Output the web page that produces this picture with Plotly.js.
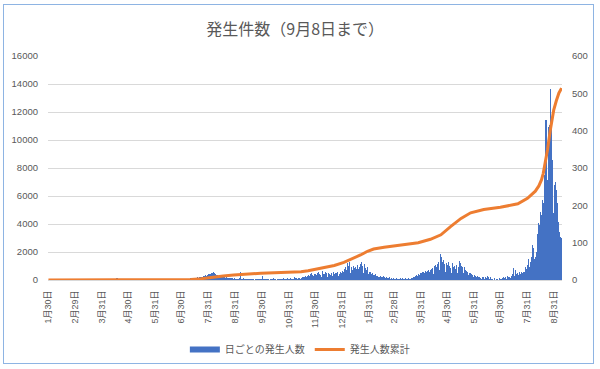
<!DOCTYPE html>
<html><head><meta charset="utf-8">
<script src="https://cdn.plot.ly/plotly-3.0.1.min.js"></script>
<style>
html,body{margin:0;padding:0;background:#fff;}
#wrap{position:relative;width:600px;height:369px;}
#chart{width:600px;height:369px;}
#frame{position:absolute;left:3px;top:4px;width:591px;height:360px;border:1px solid #8eb4e3;pointer-events:none;box-sizing:border-box;}
</style></head><body>
<div id="wrap"><div id="chart"></div><div id="frame"></div></div>
<script>
// ---- data ----
const startDate = '2020-01-30';
const dailyCases = [
  // 2020-01-30..31
  0, 1,
  // 2020-02
  0,0,0,1,0, 0,0,1,0,0, 0,0,1,2,1, 0,0,1,2,1, 0,1,0,2,1, 0,1,2,3,
  // 2020-03
  2,1,3,2,4, 3,5,4,6,5, 7,6,8,9,10, 8,12,10,14,16, 18,15,20,22,25, 28,30,35,32,40, 45,
  // 2020-04
  50,55,60,58,70, 65,80,75,90,85, 95,88,100,92,105, 98,110,150,95,105, 90,85,80,75,70, 65,60,55,50,45,
  // 2020-05
  40,35,30,28,25, 22,20,18,16,15, 14,12,10,9,8, 7,6,5,6,4, 5,3,4,2,3, 2,1,2,1,2, 1,
  // 2020-06
  1,2,0,1,2, 1,0,2,1,3, 2,1,4,3,2, 5,4,3,6,5, 8,6,10,12,9, 15,14,18,20,25,
  // 2020-07
  30,45,38,52,60, 48,70,85,78,95, 110,90,125,140,118, 160,150,175,190,165, 210,230,205,250,270, 240,300,330,290,360, 400,
  // 2020-08
  420,450,380,480,520, 560,500,430,380,350, 300,320,280,250,270, 230,200,220,180,160, 190,150,140,170,120, 130,110,140,100,120, 90,
  // 2020-09
  80,100,60,120,150, 590,90,70,110,60, 80,130,50,70,90, 40,100,60,80,120, 50,30,70,90,40, 60,80,30,50,70,
  // 2020-10
  290,60,40,80,100, 30,50,70,20,90, 60,40,110,30,50, 80,20,60,100,40, 70,30,90,50,120, 60,80,40,150,70, 100,
  // 2020-11
  80,120,60,100,90, 190,70,110,130,90, 150,120,100,170,140, 200,250,180,300,230, 280,350,260,320,400, 520,380,300,430,350,
  // 2020-12
  400,350,480,590,420, 380,250,500,650,460, 400,550,480,250,520, 600,450,380,500,270, 550,420,480,400,520, 580,280,450,600,520, 650,
  // 2021-01
  710,600,800,950,700, 1190,1000,1260,1070,500, 960,750,1000,850,920, 780,450,1050,820,950, 1150,1310,1000,500,900, 1120,850,700,900,450, 590,
  // 2021-02
  550,480,420,500,380, 350,400,300,280,320, 250,220,300,200,180, 260,220,500,150,200, 170,120,180,100,150, 130,90,120,
  // 2021-03
  100,80,130,60,90, 150,70,110,50,120, 90,60,140,80,100, 70,130,90,60,110, 150,200,250,180,300, 350,280,400,380,450, 520,
  // 2021-04
  480,550,590,500,620, 560,300,650,710,600, 750,820,880,450,950, 1000,1070,900,1150,1310, 700,1400,1830,1660,1300, 1430,1150,600,1200,1070,
  // 2021-05
  1100,1260,1000,850,500, 1200,900,1120,1000,800, 1070,500,950,1360,1190, 1500,1000,950,500,900, 710,650,600,785,350, 500,480,420,380,200, 360,
  // 2021-06
  320,280,250,300,200, 180,120,70,150,250, 200,100,180,120,290, 220,150,80,240,100, 60,30,120,20,80, 40,100,30,150,60,
  // 2021-07
  80,150,60,200,120, 250,100,300,180,220, 350,150,280,400,830, 300,710,450,350,500, 380,600,420,550,480, 600,700,550,950,800, 1100,
  // 2021-08
  1500,900,1300,1700,1660, 2500,2260,1500,1660,2020, 3300,3810,4050,3930,4880, 4640,5710,5480,7500,9800, 11430,11400,7140,10900,11070, 13620,11300,9520,8600,4760, 6790,
  // 2021-09-01..08
  7020,6430,5500,4160,3810, 3450,3090,2980
];

const cumDates = [
  '2020-01-30','2020-05-09','2020-07-06','2020-07-11','2020-07-23','2020-07-31','2020-08-07','2020-08-17','2020-08-29',
  '2020-09-14','2020-09-29','2020-10-22','2020-11-14','2020-11-22','2020-12-10','2020-12-22','2021-01-02','2021-01-12',
  '2021-01-21','2021-01-29','2021-02-05','2021-02-17','2021-03-08','2021-03-28','2021-04-11','2021-04-23','2021-05-04',
  '2021-05-16','2021-05-27','2021-06-11','2021-06-30','2021-07-20','2021-07-31','2021-08-09','2021-08-13','2021-08-16',
  '2021-08-18','2021-08-20','2021-08-23','2021-08-26','2021-08-30','2021-09-02','2021-09-05','2021-09-08'
];
const cumValues = [
  0,0.3,1,1.5,3.5,6.5,9,11,13.4,
  16,18,19.8,22,25,33,39,47,57,
  67,77,83,88,94,100,109,121,143,
  165,180,189,195,204,219,238,252,268,
  285,310,350,400,455,480,501,514
];

const tickDates = ['2020-01-30','2020-02-29','2020-03-31','2020-04-30','2020-05-31','2020-06-30','2020-07-31',
  '2020-08-31','2020-09-30','2020-10-31','2020-11-30','2020-12-31','2021-01-31','2021-02-28','2021-03-31',
  '2021-04-30','2021-05-31','2021-06-30','2021-07-31','2021-08-31'];
const tickLabels = ['1月30日','2月29日','3月31日','4月30日','5月31日','6月30日','7月31日','8月31日','9月30日',
  '10月31日','11月30日','12月31日','1月31日','2月28日','3月31日','4月30日','5月31日','6月30日','7月31日','8月31日'];

const seriesNames = ['日ごとの発生人数', '発生人数累計'];
const chartTitle = '発生件数（9月8日まで）';

// ---- build day categories from the start date ----
function dayString(i) {
  const p = startDate.split('-').map(Number);
  const d = new Date(Date.UTC(p[0], p[1] - 1, p[2] + i));
  return d.toISOString().slice(0, 10);
}
const dayDates = dailyCases.map((_, i) => dayString(i));

const BLUE = '#4472C4', ORANGE = '#ED7D31', TXT = '#595959';
const FONT = "'Liberation Sans', 'Noto Sans CJK JP', sans-serif";
const CJK = "'Noto Sans CJK JP', 'Liberation Sans', sans-serif";

const traces = [
  { type: 'bar', x: dayDates, y: dailyCases, name: seriesNames[0], showlegend: false,
    marker: { color: BLUE, line: { width: 0 } }, yaxis: 'y', hoverinfo: 'x+y' },
  { type: 'scatter', mode: 'lines', x: [null], y: [null], name: seriesNames[0],
    line: { color: BLUE, width: 6 }, yaxis: 'y', hoverinfo: 'skip' },
  { type: 'scatter', mode: 'lines', x: cumDates, y: cumValues, name: seriesNames[1],
    line: { color: ORANGE, width: 3 }, yaxis: 'y2' }
];

const layout = {
  width: 600, height: 369,
  margin: { l: 48, r: 38, t: 56, b: 89, pad: 0, autoexpand: false },
  paper_bgcolor: '#fff', plot_bgcolor: '#fff',
  font: { family: CJK, color: TXT },
  title: { text: chartTitle, font: { size: 16, color: TXT, family: CJK },
    x: 0.492, xref: 'container', xanchor: 'center', y: 0.921, yref: 'container', yanchor: 'middle' },
  bargap: 0,
  showlegend: true,
  legend: { orientation: 'h', x: 0.49, xanchor: 'center', y: -0.31, yanchor: 'middle',
    font: { size: 10, color: TXT, family: CJK }, itemwidth: 30, traceorder: 'normal' },
  xaxis: {
    type: 'date', automargin: false,
    range: ['2020-01-29 12:00', '2021-09-08 12:00'],
    tickmode: 'array', tickvals: tickDates, ticktext: tickLabels,
    tickangle: -90, tickfont: { size: 9, color: TXT, family: FONT },
    showgrid: false, showline: true, linecolor: '#d9d9d9', linewidth: 1,
    ticks: '', ticklabelstandoff: 6, zeroline: false, fixedrange: true
  },
  yaxis: {
    automargin: false,
    range: [0, 16000], dtick: 2000, tick0: 0, tickformat: 'd',
    gridcolor: '#d9d9d9', gridwidth: 1, zeroline: false, showline: false,
    tickfont: { size: 9.5, color: TXT, family: FONT }, ticks: '', ticklabelstandoff: 9
  },
  yaxis2: {
    automargin: false,
    overlaying: 'y', side: 'right', range: [0, 600], dtick: 100, tick0: 0,
    showgrid: false, zeroline: false, showline: false,
    tickfont: { size: 9.5, color: TXT, family: FONT }, ticks: '', ticklabelstandoff: 9
  }
};

Plotly.newPlot('chart', traces, layout, { displayModeBar: false, staticPlot: true });
</script>
</body></html>
